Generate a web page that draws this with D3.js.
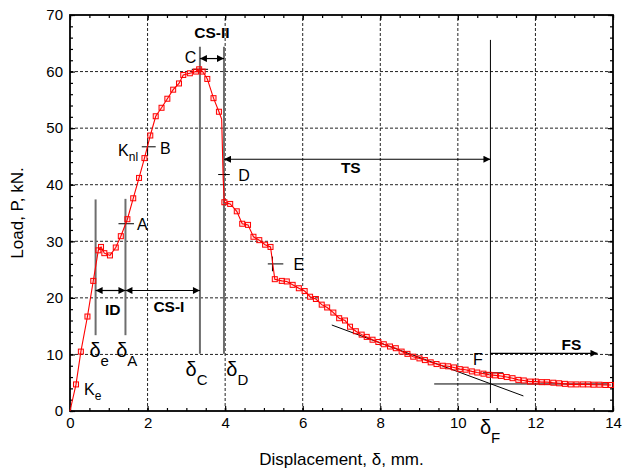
<!DOCTYPE html>
<html>
<head>
<meta charset="utf-8">
<script src="https://cdn.jsdelivr.net/npm/d3@7"></script>
<style>
  body { margin: 0; background: #fff; }
  svg text { font-family: Arial, "Liberation Sans", sans-serif; }
</style>
</head>
<body>
<div id="chart"></div>
<script>
// load-displacement curve, points drawn with square markers
const dispMarked = [0.155, 0.28, 0.45, 0.60, 0.73, 0.80, 0.885, 1.03, 1.18, 1.31,
    1.48, 1.63, 1.78, 1.92, 2.07, 2.21, 2.36, 2.51, 2.66, 2.81,
    2.92, 3.09, 3.25, 3.33, 3.42, 3.54, 3.70, 3.84, 3.98, 4.13,
    4.30, 4.44, 4.59, 4.73, 4.88, 5.03, 5.17, 5.28, 5.46, 5.59,
    5.74, 5.90, 6.05, 6.19, 6.34, 6.49, 6.63, 6.79, 6.94, 7.09,
    7.22, 7.37, 7.52, 7.65, 7.80, 7.95, 8.09, 8.25, 8.40, 8.55,
    8.70, 8.85, 9.01, 9.15, 9.30, 9.45, 9.61, 9.75, 9.90, 10.05,
    10.20, 10.36, 10.50, 10.66, 10.81, 10.96, 11.11, 11.26, 11.41, 11.56,
    11.70, 11.86, 12.01, 12.16, 12.30, 12.46, 12.61, 12.76, 12.91, 13.06,
    13.22, 13.36, 13.50, 13.65, 13.80, 13.95];
const loadMarked = [4.7, 10.5, 16.7, 23.0, 28.4, 29.0, 27.9, 27.5, 28.9, 30.9,
    33.9, 37.6, 41.2, 44.7, 48.7, 52.1, 53.6, 55.2, 56.8, 57.9,
    59.4, 59.7, 60.0, 60.4, 60.0, 58.7, 55.3, 52.9, 36.9, 36.6,
    35.3, 33.1, 32.9, 30.8, 30.2, 29.4, 29.0, 23.3, 23.0, 22.9,
    22.3, 21.7, 21.2, 20.2, 19.8, 18.8, 18.3, 17.4, 16.4, 16.0,
    14.9, 14.1, 13.5, 13.1, 12.6, 12.2, 11.8, 11.4, 11.1, 10.5,
    10.1, 9.6, 9.3, 9.0, 8.6, 8.3, 8.0, 7.9, 7.7, 7.4,
    7.3, 7.0, 6.8, 6.6, 6.4, 6.3, 6.2, 6.0, 5.8, 5.5,
    5.4, 5.2, 5.2, 5.1, 5.1, 5.0, 4.9, 4.8, 4.7, 4.7,
    4.7, 4.7, 4.65, 4.65, 4.6, 4.6];
// bends of the line that carry no marker
const dispPlain = [0, 3.91, 3.95];
const loadPlain = [0, 51.6, 41.0];

const xTicks = [0, 2, 4, 6, 8, 10, 12, 14];
const yTicks = [0, 10, 20, 30, 40, 50, 60, 70];

// gray vertical lines at characteristic displacements
const markLines = [
    {x: 0.66, y0: 13.4, y1: 37.4},
    {x: 1.43, y0: 13.4, y1: 37.5},
    {x: 3.35, y0: 10.1, y1: 64.4},
    {x: 3.97, y0: 10.1, y1: 64.4}
];
// thin black crosses / tangents
const thinLines = [
    {x0: 1.25, x1: 1.65, y0: 33.1, y1: 33.1},   // A
    {x0: 1.85, x1: 2.21, y0: 46.7, y1: 46.7},   // B
    {x0: 2.0, x1: 2.0, y0: 47.7, y1: 45.1},
    {x0: 3.14, x1: 3.56, y0: 60.4, y1: 60.4},   // C
    {x0: 3.82, x1: 4.12, y0: 41.8, y1: 41.8},   // D
    {x0: 5.1, x1: 5.5, y0: 26.0, y1: 26.0},     // E
    {x0: 5.22, x1: 5.22, y0: 27.3, y1: 24.7},
    {x0: 10.84, x1: 10.84, y0: 65.6, y1: 1.4},  // deltaF
    {x0: 6.75, x1: 11.69, y0: 15.2, y1: 2.66},  // tangent
    {x0: 9.39, x1: 13.9, y0: 4.78, y1: 4.78},   // asymptote
    {x0: 10.65, x1: 11.17, y0: 6.75, y1: 6.75}  // F
];
// stage arrows
const arrows = [
    {name: "CS-II", x0: 3.35, x1: 3.97, y: 62.3, both: true, lx: 3.66, ly: 65.9},
    {name: "TS", x0: 3.97, x1: 10.84, y: 44.5, both: true, lx: 7.24, ly: 42.0},
    {name: "ID", x0: 0.66, x1: 1.43, y: 21.3, both: true, lx: 1.10, ly: 17.0},
    {name: "CS-I", x0: 1.43, x1: 3.35, y: 21.3, both: true, lx: 2.55, ly: 17.5},
    {name: "FS", x0: 10.84, x1: 13.6, y: 10.2, both: false, lx: 12.93, ly: 10.8}
];
// point labels: main text, subscript, position (start of text, baseline)
const pointLabels = [
    {t: "A", s: "", x: 1.73, y: 32.0},
    {t: "B", s: "", x: 2.32, y: 45.4},
    {t: "C", s: "", x: 2.96, y: 61.5},
    {t: "D", s: "", x: 4.34, y: 40.7},
    {t: "E", s: "", x: 5.76, y: 24.9},
    {t: "F", s: "", x: 10.39, y: 8.1},
    {t: "K", s: "nl", x: 1.24, y: 45.1},
    {t: "K", s: "e", x: 0.36, y: 2.85}
];
const deltaLabels = [
    {s: "e", x: 0.50, y: 9.5},
    {s: "A", x: 1.19, y: 9.5},
    {s: "C", x: 2.98, y: 6.2},
    {s: "D", x: 4.03, y: 6.2},
    {s: "F", x: 10.57, y: -4.1}
];

const W = 622, H = 470;
const margin = {top: 15, right: 9, bottom: 59, left: 70};

const x = d3.scaleLinear().domain([0, 14]).range([margin.left, W - margin.right]);
const y = d3.scaleLinear().domain([0, 70]).range([H - margin.bottom, margin.top]);

const svg = d3.select("#chart").append("svg")
    .attr("width", W)
    .attr("height", H);

const defs = svg.append("defs");
defs.append("marker")
    .attr("id", "head")
    .attr("viewBox", "0 0 10 10")
    .attr("refX", 10).attr("refY", 5)
    .attr("markerWidth", 10).attr("markerHeight", 7)
    .attr("markerUnits", "userSpaceOnUse")
    .attr("orient", "auto-start-reverse")
    .append("path").attr("d", "M0,0L10,5L0,10Z").attr("fill", "#000");

// grid
svg.append("g").selectAll("line")
    .data(xTicks.slice(1, -1))
    .join("line")
    .attr("x1", d => x(d)).attr("x2", d => x(d))
    .attr("y1", y(0)).attr("y2", y(70))
    .attr("stroke", "#222").attr("stroke-width", 1)
    .attr("stroke-dasharray", "3,2");
svg.append("g").selectAll("line")
    .data(yTicks.slice(1, -1))
    .join("line")
    .attr("x1", x(0)).attr("x2", x(14))
    .attr("y1", d => y(d)).attr("y2", d => y(d))
    .attr("stroke", "#222").attr("stroke-width", 1)
    .attr("stroke-dasharray", "3,2");

// inward ticks on all four sides
const minorX = d3.range(0, 14.01, 0.5), minorY = d3.range(0, 70.01, 2);
function ticksOn(axis, pos, values, size) {
    const g = svg.append("g").attr("transform", pos)
        .call(axis.tickValues(values).tickSize(size).tickFormat(""));
    g.select(".domain").remove();
    g.selectAll(".tick line").attr("stroke", "#000").attr("stroke-width", 1.2);
}
ticksOn(d3.axisBottom(x), `translate(0,${y(0)})`, minorX, -3);
ticksOn(d3.axisTop(x), `translate(0,${y(70)})`, minorX, -3);
ticksOn(d3.axisLeft(y), `translate(${x(0)},0)`, minorY, -3);
ticksOn(d3.axisRight(y), `translate(${x(14)},0)`, minorY, -3);
ticksOn(d3.axisBottom(x), `translate(0,${y(0)})`, xTicks, -5);
ticksOn(d3.axisTop(x), `translate(0,${y(70)})`, xTicks, -5);
ticksOn(d3.axisLeft(y), `translate(${x(0)},0)`, yTicks, -5);
ticksOn(d3.axisRight(y), `translate(${x(14)},0)`, yTicks, -5);

// tick labels
const xAxis = svg.append("g").attr("transform", `translate(0,${y(0)})`)
    .call(d3.axisBottom(x).tickValues(xTicks).tickSize(0).tickPadding(6));
const yAxis = svg.append("g").attr("transform", `translate(${x(0)},0)`)
    .call(d3.axisLeft(y).tickValues(yTicks).tickSize(0).tickPadding(7));
[xAxis, yAxis].forEach(g => {
    g.select(".domain").remove();
    g.selectAll("text").attr("font-size", 15).attr("fill", "#000")
        .attr("font-family", "Arial, 'Liberation Sans', sans-serif");
});

// frame
svg.append("rect")
    .attr("x", x(0)).attr("y", y(70))
    .attr("width", x(14) - x(0)).attr("height", y(0) - y(70))
    .attr("fill", "none").attr("stroke", "#000").attr("stroke-width", 1.8);

// annotation lines
svg.append("g").selectAll("line")
    .data(markLines)
    .join("line")
    .attr("x1", d => x(d.x)).attr("x2", d => x(d.x))
    .attr("y1", d => y(d.y0)).attr("y2", d => y(d.y1))
    .attr("stroke", "#6e6e6e").attr("stroke-width", 2);
svg.append("g").selectAll("line")
    .data(thinLines)
    .join("line")
    .attr("x1", d => x(d.x0)).attr("x2", d => x(d.x1))
    .attr("y1", d => y(d.y0)).attr("y2", d => y(d.y1))
    .attr("stroke", "#000").attr("stroke-width", 1);

// curve
const pts = dispMarked.map((d, i) => [d, loadMarked[i]])
    .concat(dispPlain.map((d, i) => [d, loadPlain[i]]))
    .sort((a, b) => a[0] - b[0]);
svg.append("path")
    .datum(pts)
    .attr("fill", "none")
    .attr("stroke", "#ff0000")
    .attr("stroke-width", 1.1)
    .attr("d", d3.line().x(d => x(d[0])).y(d => y(d[1])));
svg.append("g").selectAll("rect")
    .data(dispMarked.map((d, i) => [d, loadMarked[i]]))
    .join("rect")
    .attr("x", d => x(d[0]) - 2.5).attr("y", d => y(d[1]) - 2.5)
    .attr("width", 5).attr("height", 5)
    .attr("fill", "rgba(255,0,0,0.1)")
    .attr("stroke", "#ff0000").attr("stroke-width", 1);

// stage arrows
svg.append("g").selectAll("line")
    .data(arrows)
    .join("line")
    .attr("x1", d => x(d.x0)).attr("x2", d => x(d.x1))
    .attr("y1", d => y(d.y)).attr("y2", d => y(d.y))
    .attr("stroke", "#000").attr("stroke-width", 1.2)
    .attr("marker-end", "url(#head)")
    .attr("marker-start", d => d.both ? "url(#head)" : null);
svg.append("g").selectAll("text")
    .data(arrows)
    .join("text")
    .attr("x", d => x(d.lx)).attr("y", d => y(d.ly))
    .attr("text-anchor", "middle")
    .attr("font-size", 15.5).attr("font-weight", "bold")
    .text(d => d.name);

// point labels
const pl = svg.append("g").selectAll("text")
    .data(pointLabels)
    .join("text")
    .attr("x", d => x(d.x)).attr("y", d => y(d.y))
    .attr("font-size", 16);
pl.append("tspan").text(d => d.t);
pl.append("tspan").attr("dy", 5).attr("font-size", 12).text(d => d.s);

// delta labels
const dl = svg.append("g").selectAll("text")
    .data(deltaLabels)
    .join("text")
    .attr("x", d => x(d.x)).attr("y", d => y(d.y))
    .attr("font-size", 20);
dl.append("tspan").text("δ");
dl.append("tspan").attr("dy", 9).attr("font-size", 15).text(d => d.s);

// axis titles
svg.append("text")
    .attr("x", (x(0) + x(14)) / 2).attr("y", 465)
    .attr("text-anchor", "middle").attr("font-size", 17)
    .text("Displacement, δ, mm.");
svg.append("text")
    .attr("transform", `translate(23,${(y(0) + y(70)) / 2}) rotate(-90)`)
    .attr("text-anchor", "middle").attr("font-size", 17)
    .text("Load, P, kN.");
</script>
</body>
</html>
